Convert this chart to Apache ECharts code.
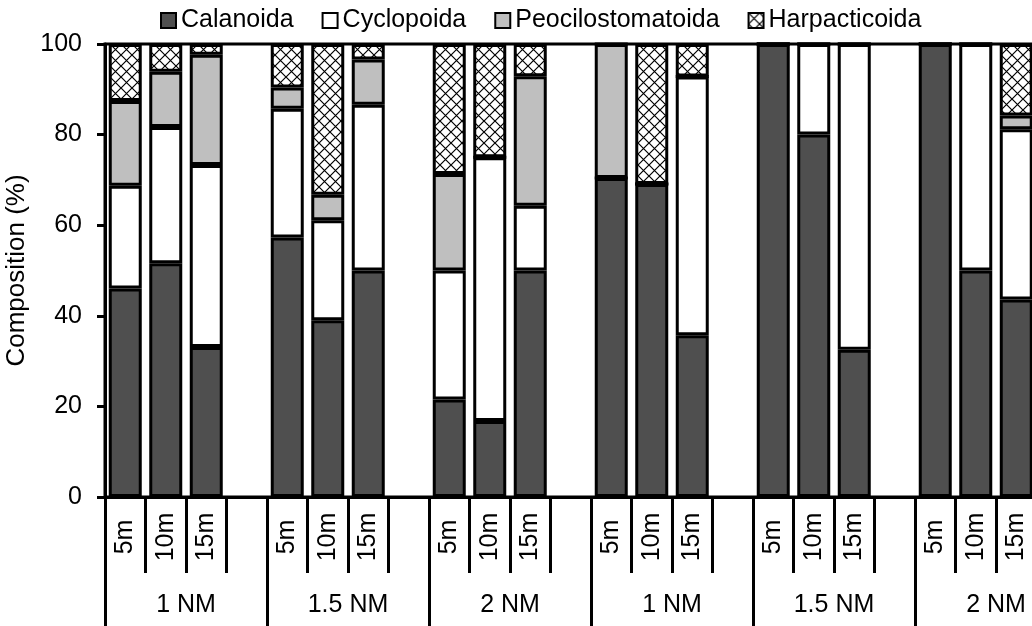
<!DOCTYPE html>
<html>
<head>
<meta charset="utf-8">
<script src="https://cdn.jsdelivr.net/npm/echarts/dist/echarts.min.js"></script>
<style>
  html, body { margin: 0; padding: 0; background: #fff; }
  #chart { width: 1032px; height: 626px; }
</style>
</head>
<body>
<div id="chart"></div>
<script>
// Depth labels for every slot (the fourth slot of each station group is a spacer)
const depthLabels = [
  '5m', '10m', '15m', '',
  '5m', '10m', '15m', '',
  '5m', '10m', '15m', '',
  '5m', '10m', '15m', '',
  '5m', '10m', '15m', '',
  '5m', '10m', '15m', ''
];
// Distance groups shown on the second axis row
const distanceLabels = ['1 NM', '1.5 NM', '2 NM', '1 NM', '1.5 NM', '2 NM'];

// Composition (%) per slot
const calanoida = [46.0, 51.6, 33.1, null, 57.3, 39.0, 50.0, null, 21.5, 16.8, 50.0, null,
                   70.4, 69.1, 35.7, null, 100, 80.0, 32.5, null, 100, 50.0, 43.6, null];
const cyclopoida = [22.7, 30.1, 40.2, null, 28.4, 22.1, 36.6, null, 28.5, 58.2, 14.3, null,
                    0, 0, 57.1, null, 0, 20.0, 67.5, null, 0, 50.0, 37.6, null];
const peocilostomatoida = [18.7, 12.2, 24.3, null, 4.7, 5.6, 10.0, null, 21.3, 0, 28.6, null,
                           29.6, 0, 0, null, 0, 0, 0, null, 0, 0, 3.0, null];
const harpacticoida = [12.6, 6.1, 2.4, null, 9.6, 33.3, 3.4, null, 28.7, 25.0, 7.1, null,
                       0, 30.9, 7.2, null, 0, 0, 0, null, 0, 0, 15.8, null];

const yTicks = { min: 0, max: 100, step: 20 };

// Diagonal cross-hatch fill
function crossHatch(size) {
  const c = document.createElement('canvas');
  c.width = size; c.height = size;
  const ctx = c.getContext('2d');
  ctx.fillStyle = '#fff';
  ctx.fillRect(0, 0, size, size);
  ctx.strokeStyle = '#000';
  ctx.lineWidth = 1.2;
  ctx.beginPath();
  ctx.moveTo(0, 0); ctx.lineTo(size, size);
  ctx.moveTo(size, 0); ctx.lineTo(0, size);
  ctx.stroke();
  return { image: c, repeat: 'repeat' };
}

const FONT = "'Liberation Sans', Arial, sans-serif";
const chart = echarts.init(document.getElementById('chart'), null, { renderer: 'canvas' });

function barSeries(name, data, color) {
  return {
    name: name,
    type: 'bar',
    stack: 'total',
    barWidth: 33,
    data: data,
    itemStyle: { color: color, borderColor: '#000', borderWidth: 3 },
    emphasis: { disabled: true }
  };
}

chart.setOption({
  animation: false,
  backgroundColor: '#fff',
  textStyle: { fontFamily: FONT, color: '#000' },
  legend: {
    top: 3,
    left: 155,
    itemGap: 28,
    itemWidth: 15,
    itemHeight: 15,
    icon: 'rect',
    itemStyle: { borderColor: '#000', borderWidth: 2 },
    textStyle: { fontFamily: FONT, fontSize: 25, color: '#000' },
    data: ['Calanoida', 'Cyclopoida', 'Peocilostomatoida', 'Harpacticoida']
  },
  grid: {
    left: 105,
    right: -45,
    top: 44,
    bottom: 129,
    outerBoundsMode: 'none',
    containLabel: false,
    show: true,
    borderColor: '#000',
    borderWidth: 3,
    backgroundColor: 'transparent'
  },
  xAxis: [
    {
      type: 'category',
      data: depthLabels,
      position: 'bottom',
      boundaryGap: true,
      axisLine: { show: true, lineStyle: { color: '#000', width: 3 } },
      axisTick: { show: true, interval: 0, length: 76, alignWithLabel: false,
                  lineStyle: { color: '#000', width: 3 } },
      axisLabel: { interval: 0, rotate: 90, align: 'center', verticalAlign: 'middle', margin: 40,
                   fontFamily: FONT, fontSize: 25, color: '#000' },
      splitLine: { show: false }
    },
    {
      type: 'category',
      data: distanceLabels,
      position: 'bottom',
      offset: 0,
      boundaryGap: true,
      axisLine: { show: false },
      axisTick: { show: true, interval: 0, length: 132, alignWithLabel: false,
                  lineStyle: { color: '#000', width: 3 } },
      axisLabel: { interval: 0, margin: 96, fontFamily: FONT, fontSize: 25, color: '#000' },
      splitLine: { show: false }
    }
  ],
  yAxis: {
    type: 'value',
    min: yTicks.min,
    max: yTicks.max,
    interval: yTicks.step,
    name: 'Composition (%)',
    nameLocation: 'middle',
    nameGap: 52,
    nameTextStyle: { fontFamily: FONT, fontSize: 26, color: '#000' },
    axisLine: { show: true, lineStyle: { color: '#000', width: 3 } },
    axisTick: { show: true, inside: false, length: 8, lineStyle: { color: '#000', width: 3 } },
    axisLabel: { margin: 23, fontFamily: FONT, fontSize: 25, color: '#000' },
    splitLine: { show: false }
  },
  series: [
    barSeries('Calanoida', calanoida, '#4f4f4f'),
    barSeries('Cyclopoida', cyclopoida, '#ffffff'),
    barSeries('Peocilostomatoida', peocilostomatoida, '#bfbfbf'),
    barSeries('Harpacticoida', harpacticoida, crossHatch(11))
  ]
});
</script>
</body>
</html>
